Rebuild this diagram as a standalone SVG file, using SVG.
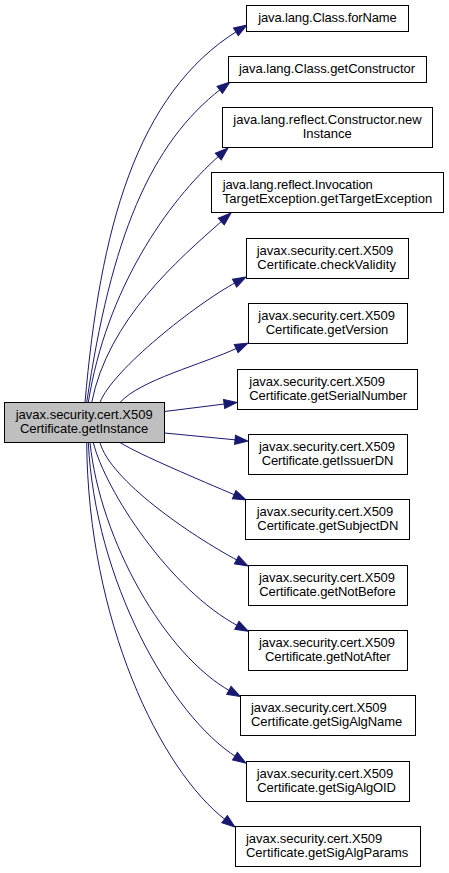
<svg xmlns="http://www.w3.org/2000/svg" width="449" height="873" viewBox="0 0 449 873">
<style>
.box{fill:#ffffff;stroke:#000000;stroke-width:1}
.root{fill:#bfbfbf;stroke:#000000;stroke-width:1}
text{font-family:"Liberation Sans",Arial,sans-serif;font-size:13px;fill:#000000}
.e{fill:none;stroke:#191970;stroke-width:1;marker-end:url(#ah)}
</style>
<defs>
<marker id="ah" markerWidth="13" markerHeight="9" refX="2" refY="4.5" orient="auto" markerUnits="userSpaceOnUse" overflow="visible">
<path d="M0,0 L13,4.5 L0,9 z" fill="#191970" stroke="#191970" stroke-width="1"/>
</marker>
</defs>
<rect width="449" height="873" fill="#ffffff"/>
<g id="edges">
<path class="e" d="M85,402.5 C100,230 135.6,94.4 237.6,30.8"/>
<path class="e" d="M86.7,402.5 C111,238 150.2,143.6 221.3,88.7"/>
<path class="e" d="M88.3,402.5 C106,290 167.25,201.5 219.75,155.3"/>
<path class="e" d="M91.7,402.5 C108,320 177.75,259.9 222.75,220.3"/>
<path class="e" d="M100,402.5 C112,370 196.7,303.4 236.3,282.2"/>
<path class="e" d="M120,402.5 C140,380 201.8,364.6 238,347.7"/>
<path class="e" d="M164.5,411.5 L226.1,403.8"/>
<path class="e" d="M164.5,433 L237,440"/>
<path class="e" d="M120,442.5 C140,455 200,480 236,495.5"/>
<path class="e" d="M100,442.5 C110,480 190,535 238.3,560.8"/>
<path class="e" d="M93.3,442.5 C105,490 170,590 238.65,626.2"/>
<path class="e" d="M90,442.5 C100,540 165,655 230.65,691.3"/>
<path class="e" d="M88.3,442.5 C95,580 170,715 236.65,757.2"/>
<path class="e" d="M86.7,442.5 C88,620 160,770 226.2,820.4"/>
</g>
<g id="root">
<rect class="root" x="4.5" y="402.5" width="160" height="40"/>
<text x="15.7" y="419" textLength="137" lengthAdjust="spacing">javax.security.cert.X509</text>
<text x="20" y="433" textLength="128.3" lengthAdjust="spacing">Certificate.getInstance</text>
</g>
<g id="n_forName">
<rect class="box" x="246.5" y="5.5" width="162" height="26"/>
<text x="258.3" y="22" textLength="138.4" lengthAdjust="spacing">java.lang.Class.forName</text>
</g>
<g id="n_getConstructor">
<rect class="box" x="228.5" y="56.5" width="198" height="26"/>
<text x="239" y="73" textLength="176" lengthAdjust="spacing">java.lang.Class.getConstructor</text>
</g>
<g id="n_newInstance">
<rect class="box" x="222.5" y="107.5" width="210" height="40"/>
<text x="233.3" y="124" textLength="188.4" lengthAdjust="spacing">java.lang.reflect.Constructor.new</text>
<text x="302.7" y="138.3" textLength="49" lengthAdjust="spacing">Instance</text>
</g>
<g id="n_getTargetException">
<rect class="box" x="211.5" y="172.5" width="232" height="40"/>
<text x="222.7" y="189" textLength="150" lengthAdjust="spacing">java.lang.reflect.Invocation</text>
<text x="222.7" y="203.3" textLength="209.6" lengthAdjust="spacing">TargetException.getTargetException</text>
</g>
<g id="n_checkValidity">
<rect class="box" x="246.5" y="238.5" width="162" height="40"/>
<text x="256.7" y="255" textLength="136.6" lengthAdjust="spacing">javax.security.cert.X509</text>
<text x="257.3" y="269.3" textLength="138.7" lengthAdjust="spacing">Certificate.checkValidity</text>
</g>
<g id="n_getVersion">
<rect class="box" x="248.5" y="303.5" width="159" height="40"/>
<text x="258.3" y="320" textLength="136.7" lengthAdjust="spacing">javax.security.cert.X509</text>
<text x="265.7" y="334.3" textLength="122.6" lengthAdjust="spacing">Certificate.getVersion</text>
</g>
<g id="n_getSerialNumber">
<rect class="box" x="237.5" y="369.5" width="180" height="40"/>
<text x="249.3" y="386" textLength="135.7" lengthAdjust="spacing">javax.security.cert.X509</text>
<text x="249.3" y="400.3" textLength="157.7" lengthAdjust="spacing">Certificate.getSerialNumber</text>
</g>
<g id="n_getIssuerDN">
<rect class="box" x="248.5" y="434.5" width="159" height="40"/>
<text x="259" y="451" textLength="136" lengthAdjust="spacing">javax.security.cert.X509</text>
<text x="261.7" y="465.3" textLength="131.6" lengthAdjust="spacing">Certificate.getIssuerDN</text>
</g>
<g id="n_getSubjectDN">
<rect class="box" x="245.5" y="499.5" width="164" height="40"/>
<text x="256.7" y="516" textLength="136.6" lengthAdjust="spacing">javax.security.cert.X509</text>
<text x="257.3" y="530.3" textLength="141" lengthAdjust="spacing">Certificate.getSubjectDN</text>
</g>
<g id="n_getNotBefore">
<rect class="box" x="248.5" y="565.5" width="159" height="40"/>
<text x="259" y="582" textLength="136" lengthAdjust="spacing">javax.security.cert.X509</text>
<text x="259.3" y="596.3" textLength="136.4" lengthAdjust="spacing">Certificate.getNotBefore</text>
</g>
<g id="n_getNotAfter">
<rect class="box" x="248.5" y="630.5" width="159" height="40"/>
<text x="259" y="647" textLength="136" lengthAdjust="spacing">javax.security.cert.X509</text>
<text x="265" y="661.3" textLength="125.7" lengthAdjust="spacing">Certificate.getNotAfter</text>
</g>
<g id="n_getSigAlgName">
<rect class="box" x="240.5" y="695.5" width="175" height="40"/>
<text x="251" y="712" textLength="135.7" lengthAdjust="spacing">javax.security.cert.X509</text>
<text x="251" y="726.3" textLength="151.3" lengthAdjust="spacing">Certificate.getSigAlgName</text>
</g>
<g id="n_getSigAlgOID">
<rect class="box" x="246.5" y="761.5" width="163" height="40"/>
<text x="256.7" y="778" textLength="136.6" lengthAdjust="spacing">javax.security.cert.X509</text>
<text x="257.3" y="792.3" textLength="138.7" lengthAdjust="spacing">Certificate.getSigAlgOID</text>
</g>
<g id="n_getSigAlgParams">
<rect class="box" x="235.5" y="826.5" width="185" height="40"/>
<text x="246" y="843" textLength="136.3" lengthAdjust="spacing">javax.security.cert.X509</text>
<text x="246" y="857.3" textLength="162.3" lengthAdjust="spacing">Certificate.getSigAlgParams</text>
</g>
</svg>
